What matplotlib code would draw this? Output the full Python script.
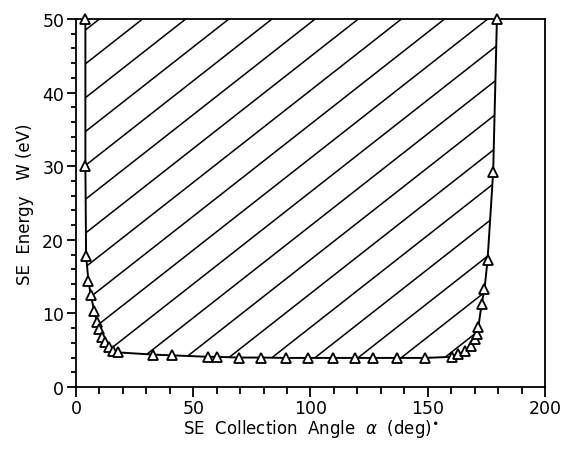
import numpy as np
import matplotlib
matplotlib.use("Agg")
import matplotlib.pyplot as plt
from matplotlib.patches import Polygon
from matplotlib.collections import LineCollection
from matplotlib.ticker import MultipleLocator

# SE collection angle (deg) and SE energy W (eV) along the boundary curve
alpha = [4, 4, 4.3, 5.3, 6.3, 7.8, 9, 9.8, 11, 12.4, 14.1, 15.8, 17.9,
         33, 41, 56.5, 60, 69.5, 79, 89.5, 99, 109.5, 118.8, 126.6, 136.8,
         148.8, 160.5, 163, 166, 168.5, 170, 171, 171.6, 173, 174.2, 175.5,
         177.9, 179.5]
energy = [50, 30, 17.8, 14.4, 12.5, 10.3, 8.8, 7.9, 6.8, 6.1, 5.4, 4.9, 4.7,
          4.4, 4.3, 4.1, 4.1, 4.0, 4.0, 3.95, 3.95, 3.95, 3.95, 3.95, 3.95,
          3.95, 4.1, 4.5, 4.9, 5.6, 6.5, 7.2, 8.2, 11.3, 13.3, 17.2,
          29.2, 50]

x_ticks = [0, 50, 100, 150, 200]
y_ticks = [0, 10, 20, 30, 40, 50]

plt.rcParams['font.family'] = 'DejaVu Sans'

fig = plt.figure(figsize=(5.63, 4.52), dpi=100)
ax = fig.add_axes([0.135, 0.1416, 0.833, 0.8142])

ax.set_xlim(0, 200)
ax.set_ylim(0, 50)

# hatched region above the curve
region = Polygon(np.column_stack([alpha, energy]), closed=True,
                 facecolor='none', edgecolor='none')
ax.add_patch(region)
slope, step = 0.25, 4.6
segs = []
for k in range(-12, 14):
    c = 46.0 + step * k
    segs.append([(-10, c + slope * (-10 - 178)), (210, c + slope * (210 - 178))])
hatch = LineCollection(segs, colors='black', linewidths=1.1)
hatch.set_clip_path(region)
ax.add_collection(hatch)

ax.plot(alpha, energy, color='black', lw=1.4, marker='^', ms=7.5,
        mfc='white', mec='black', mew=1.3, clip_on=False, zorder=3)

for s in ax.spines.values():
    s.set_linewidth(1.3)

ax.set_xticks(x_ticks)
ax.set_yticks(y_ticks)
ax.xaxis.set_minor_locator(MultipleLocator(10))
ax.yaxis.set_minor_locator(MultipleLocator(2))
ax.tick_params(axis='x', which='major', direction='out', length=7, width=1.3,
               labelsize=12.5, pad=2)
ax.tick_params(axis='x', which='minor', direction='out', length=5, width=1.3)
ax.tick_params(axis='y', which='major', direction='out', length=6.5, width=1.3,
               labelsize=12.5, pad=2)
ax.tick_params(axis='y', which='minor', direction='out', length=3.5, width=1.3)

ax.set_xlabel(r'SE  Collection  Angle  $\alpha$  (deg)$^{\bullet}$',
              fontsize=12, labelpad=0)
ax.set_ylabel('SE  Energy   W (eV)', fontsize=12, labelpad=6)

fig.savefig('out.png', dpi=100)
